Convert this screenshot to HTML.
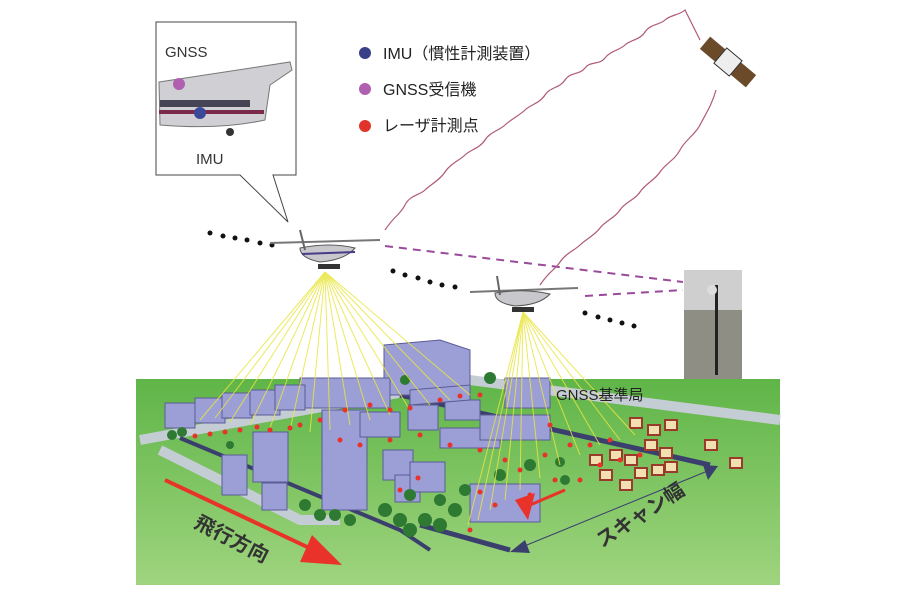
<!DOCTYPE html>
<html><head><meta charset="utf-8"><style>
body{margin:0;background:#fff;width:900px;height:600px;overflow:hidden}
svg{display:block}
text{font-family:"Liberation Sans","Noto Sans CJK JP",sans-serif}
</style></head><body>
<svg width="900" height="600" viewBox="0 0 900 600">
<defs>
<linearGradient id="g" x1="0" y1="0" x2="0" y2="1"><stop offset="0" stop-color="#5fb548"/><stop offset="1" stop-color="#9fd47e"/></linearGradient>
</defs>
<!-- ground -->
<rect x="136" y="379" width="644" height="206" fill="url(#g)"/>
<!-- roads -->
<path d="M140 440 L470 380 L780 420" stroke="#c5cdd4" stroke-width="10" fill="none"/>
<path d="M160 450 L300 520 L340 520" stroke="#c5cdd4" stroke-width="10" fill="none"/>
<path d="M180 438 L400 530 L430 550" stroke="#3a3f6e" stroke-width="4" fill="none"/>
<path d="M330 540 L430 550" stroke="#3a3f6e" stroke-width="0"/>
<path d="M335 505 L430 545" stroke="#3a3f6e" stroke-width="0"/>
<path d="M420 525 L510 550" stroke="#3a3f6e" stroke-width="5" fill="none"/>
<path d="M400 395 L710 465" stroke="#3a3f6e" stroke-width="5" fill="none"/>
<!-- big buildings -->
<g fill="#9c9ed6" stroke="#5a5c96" stroke-width="1">
<polygon points="384,345 440,340 470,350 470,395 384,395"/>
<rect x="300" y="378" width="90" height="30"/>
<rect x="165" y="403" width="30" height="25"/><rect x="195" y="398" width="30" height="25"/><rect x="222" y="393" width="30" height="25"/><rect x="250" y="390" width="30" height="25"/><rect x="275" y="385" width="30" height="25"/>
<rect x="322" y="410" width="45" height="100"/>
<rect x="253" y="432" width="35" height="50"/>
<rect x="222" y="455" width="25" height="40"/>
<rect x="262" y="483" width="25" height="27"/>
<rect x="383" y="450" width="30" height="30"/>
<rect x="395" y="475" width="25" height="27"/>
<rect x="360" y="412" width="40" height="25"/>
<rect x="408" y="405" width="30" height="25"/>
<rect x="445" y="400" width="35" height="20"/>
<rect x="440" y="428" width="60" height="20"/>
<rect x="480" y="415" width="70" height="25"/>
<rect x="505" y="378" width="45" height="30"/>
<polygon points="410,390 470,385 470,400 410,405"/>
<rect x="410" y="462" width="35" height="30"/>
<rect x="470" y="484" width="70" height="38"/>
</g>
<!-- trees -->
<g fill="#2e7a32">
<circle cx="172" cy="435" r="5"/><circle cx="182" cy="432" r="5"/><circle cx="230" cy="445" r="4"/>
<circle cx="305" cy="505" r="6"/><circle cx="320" cy="515" r="6"/><circle cx="335" cy="515" r="6"/><circle cx="350" cy="520" r="6"/>
<circle cx="385" cy="510" r="7"/><circle cx="400" cy="520" r="7"/><circle cx="410" cy="530" r="7"/><circle cx="425" cy="520" r="7"/><circle cx="440" cy="525" r="7"/><circle cx="455" cy="510" r="7"/><circle cx="465" cy="490" r="6"/>
<circle cx="410" cy="495" r="6"/><circle cx="440" cy="500" r="6"/><circle cx="530" cy="465" r="6"/><circle cx="500" cy="475" r="6"/><circle cx="490" cy="378" r="6"/><circle cx="405" cy="380" r="5"/>
<circle cx="565" cy="480" r="5"/><circle cx="560" cy="462" r="5"/>
</g>
<!-- houses -->
<g fill="#f2e0b0" stroke="#9a3a2a" stroke-width="2">
<rect x="630" y="418" width="12" height="10"/><rect x="648" y="425" width="12" height="10"/><rect x="665" y="420" width="12" height="10"/><rect x="645" y="440" width="12" height="10"/><rect x="660" y="448" width="12" height="10"/><rect x="610" y="450" width="12" height="10"/><rect x="625" y="455" width="12" height="10"/><rect x="635" y="468" width="12" height="10"/><rect x="652" y="465" width="12" height="10"/><rect x="665" y="462" width="12" height="10"/><rect x="600" y="470" width="12" height="10"/><rect x="620" y="480" width="12" height="10"/><rect x="590" y="455" width="12" height="10"/><rect x="705" y="440" width="12" height="10"/><rect x="730" y="458" width="12" height="10"/>
</g>
<!-- laser beams -->
<g stroke="#e8e640" stroke-width="1" opacity="0.85">
<line x1="325" y1="272" x2="200" y2="420"/><line x1="325" y1="272" x2="215" y2="418"/><line x1="325" y1="272" x2="230" y2="422"/><line x1="325" y1="272" x2="250" y2="425"/><line x1="325" y1="272" x2="270" y2="428"/><line x1="325" y1="272" x2="290" y2="430"/><line x1="325" y1="272" x2="310" y2="432"/><line x1="325" y1="272" x2="330" y2="430"/><line x1="325" y1="272" x2="350" y2="425"/><line x1="325" y1="272" x2="370" y2="420"/><line x1="325" y1="272" x2="390" y2="415"/><line x1="325" y1="272" x2="410" y2="410"/><line x1="325" y1="272" x2="430" y2="405"/><line x1="325" y1="272" x2="450" y2="400"/><line x1="325" y1="272" x2="470" y2="395"/>
<line x1="523" y1="312" x2="468" y2="525"/><line x1="523" y1="312" x2="478" y2="520"/><line x1="523" y1="312" x2="490" y2="510"/><line x1="523" y1="312" x2="505" y2="500"/><line x1="523" y1="312" x2="520" y2="490"/><line x1="523" y1="312" x2="540" y2="478"/><line x1="523" y1="312" x2="560" y2="465"/><line x1="523" y1="312" x2="580" y2="455"/><line x1="523" y1="312" x2="600" y2="445"/><line x1="523" y1="312" x2="620" y2="440"/><line x1="523" y1="312" x2="635" y2="435"/>
</g>
<!-- red points -->
<g fill="#e8322a">
<circle cx="195" cy="436" r="2.5"/><circle cx="210" cy="434" r="2.5"/><circle cx="225" cy="432" r="2.5"/><circle cx="240" cy="430" r="2.5"/><circle cx="257" cy="427" r="2.5"/><circle cx="270" cy="430" r="2.5"/><circle cx="290" cy="428" r="2.5"/><circle cx="300" cy="425" r="2.5"/><circle cx="320" cy="420" r="2.5"/><circle cx="345" cy="410" r="2.5"/><circle cx="370" cy="405" r="2.5"/><circle cx="390" cy="410" r="2.5"/><circle cx="410" cy="408" r="2.5"/><circle cx="440" cy="400" r="2.5"/><circle cx="460" cy="396" r="2.5"/><circle cx="480" cy="395" r="2.5"/>
<circle cx="340" cy="440" r="2.5"/><circle cx="360" cy="445" r="2.5"/><circle cx="390" cy="440" r="2.5"/><circle cx="420" cy="435" r="2.5"/><circle cx="450" cy="445" r="2.5"/><circle cx="480" cy="450" r="2.5"/><circle cx="505" cy="460" r="2.5"/>
<circle cx="400" cy="490" r="2.5"/><circle cx="418" cy="478" r="2.5"/><circle cx="480" cy="492" r="2.5"/><circle cx="495" cy="505" r="2.5"/><circle cx="470" cy="530" r="2.5"/><circle cx="520" cy="470" r="2.5"/><circle cx="545" cy="455" r="2.5"/><circle cx="570" cy="445" r="2.5"/><circle cx="590" cy="445" r="2.5"/><circle cx="610" cy="440" r="2.5"/><circle cx="620" cy="460" r="2.5"/><circle cx="640" cy="455" r="2.5"/><circle cx="600" cy="465" r="2.5"/><circle cx="580" cy="480" r="2.5"/><circle cx="555" cy="480" r="2.5"/><circle cx="530" cy="495" r="2.5"/><circle cx="550" cy="425" r="2.5"/>
</g>
<!-- red arrow -->
<line x1="165" y1="480" x2="320" y2="553" stroke="#e8322a" stroke-width="4"/>
<polygon points="312,535 342,565 300,562" fill="#e8322a"/>
<polygon points="515,500 535,493 528,520" fill="#e8322a"/>
<line x1="530" y1="505" x2="565" y2="490" stroke="#e8322a" stroke-width="3"/>
<!-- scan width arrow -->
<line x1="522" y1="547" x2="710" y2="470" stroke="#3a3f6e" stroke-width="1"/>
<polygon points="510,552 525,540 530,553" fill="#3a3f6e"/>
<polygon points="718,466 703,465 708,480" fill="#3a3f6e"/>
<text x="0" y="0" font-size="20" font-weight="bold" fill="#333" transform="translate(193,527) rotate(27)">飛行方向</text>
<text x="0" y="0" font-size="20" font-weight="bold" fill="#333" transform="translate(602,548) rotate(-33)">スキャン幅</text>
<text x="556" y="400" font-size="15" fill="#222">GNSS基準局</text>
<!-- GNSS station photo -->
<rect x="684" y="270" width="58" height="109" fill="#8e8e84"/>
<rect x="684" y="270" width="58" height="40" fill="#cfcfcf"/>
<rect x="715" y="285" width="3" height="90" fill="#222"/>
<circle cx="712" cy="290" r="5" fill="#ddd"/>
<!-- dashed lines -->
<path d="M385 246 L683 282" stroke="#9a4a9a" stroke-width="2" stroke-dasharray="8,6" fill="none"/>
<path d="M585 296 L683 290" stroke="#9a4a9a" stroke-width="2" stroke-dasharray="8,6" fill="none"/>
<!-- waves -->
<path d="M385 230 C395 215 400 215 405 205 S 420 195 425 190 S 440 180 445 172 S 460 160 465 155 S 480 148 485 140 S 500 130 505 125 S 520 115 525 110 S 540 103 545 95 S 560 88 565 80 S 580 75 585 68 S 600 65 605 58 S 620 50 625 45 S 640 40 645 32 S 660 25 665 20 S 680 15 685 10 L700 40" stroke="#b05a7a" stroke-width="1.2" fill="none"/>
<path d="M540 285 C550 270 555 270 560 262 S 575 250 580 245 S 595 235 600 228 S 615 218 620 210 S 635 200 640 192 S 655 180 660 172 S 675 160 680 150 S 695 135 700 125 S 712 105 716 90" stroke="#b05a7a" stroke-width="1.2" fill="none"/>
<!-- satellite -->
<g transform="translate(728,62) rotate(40)">
<rect x="-30" y="-8" width="20" height="16" fill="#6b4a2a"/><rect x="10" y="-8" width="20" height="16" fill="#6b4a2a"/>
<rect x="-10" y="-10" width="20" height="20" fill="#eee" stroke="#333"/>
</g>
<!-- flight dots -->
<g fill="#111">
<circle cx="210" cy="233" r="2.5"/><circle cx="223" cy="236" r="2.5"/><circle cx="235" cy="238" r="2.5"/><circle cx="247" cy="240" r="2.5"/><circle cx="260" cy="243" r="2.5"/><circle cx="272" cy="245" r="2.5"/>
<circle cx="393" cy="271" r="2.5"/><circle cx="405" cy="275" r="2.5"/><circle cx="418" cy="278" r="2.5"/><circle cx="430" cy="282" r="2.5"/><circle cx="442" cy="285" r="2.5"/><circle cx="455" cy="287" r="2.5"/>
<circle cx="585" cy="313" r="2.5"/><circle cx="598" cy="317" r="2.5"/><circle cx="610" cy="320" r="2.5"/><circle cx="622" cy="323" r="2.5"/><circle cx="634" cy="326" r="2.5"/>
</g>
<!-- planes -->
<g>
<path d="M270 243 L380 240" stroke="#777" stroke-width="2"/>
<path d="M300 248 Q330 242 355 248 Q345 260 320 262 Q300 258 300 248Z" fill="#c8c8cc" stroke="#555"/>
<path d="M300 230 L305 250" stroke="#666" stroke-width="2"/>
<line x1="302" y1="254" x2="355" y2="252" stroke="#4a3a8a" stroke-width="2"/>
<rect x="318" y="264" width="22" height="5" fill="#333"/>
</g>
<g>
<path d="M470 292 L578 288" stroke="#777" stroke-width="2"/>
<path d="M495 293 Q525 288 550 294 Q540 305 515 306 Q495 303 495 293Z" fill="#c8c8cc" stroke="#555"/>
<path d="M497 276 L500 295" stroke="#666" stroke-width="2"/>
<rect x="512" y="307" width="22" height="5" fill="#333"/>
</g>
<!-- callout -->
<path d="M156 22 L296 22 L296 175 L273 175 L288 222 L240 175 L156 175 Z" fill="#fff" stroke="#444" stroke-width="1"/>
<text x="165" y="57" font-size="15" fill="#333">GNSS</text>
<text x="196" y="164" font-size="15" fill="#333">IMU</text>
<path d="M159 82 L290 62 L292 70 L270 85 L265 120 Q220 130 160 125 Z" fill="#cfcfd4" stroke="#777"/>
<rect x="159" y="110" width="105" height="4" fill="#7a2a4a"/>
<rect x="160" y="100" width="90" height="7" fill="#445"/>
<circle cx="230" cy="132" r="4" fill="#333"/>
<circle cx="179" cy="84" r="6" fill="#b060b0"/>
<circle cx="200" cy="113" r="6" fill="#3a4a9a"/>
<!-- legend -->
<circle cx="365" cy="53" r="6" fill="#3a4088"/>
<circle cx="365" cy="89" r="6" fill="#b060b0"/>
<circle cx="365" cy="126" r="6" fill="#e0332a"/>
<text x="383" y="59" font-size="16" fill="#222">IMU（慣性計測装置）</text>
<text x="383" y="95" font-size="16" fill="#222">GNSS受信機</text>
<text x="383" y="131" font-size="16" fill="#222">レーザ計測点</text>
</svg>
</body></html>
